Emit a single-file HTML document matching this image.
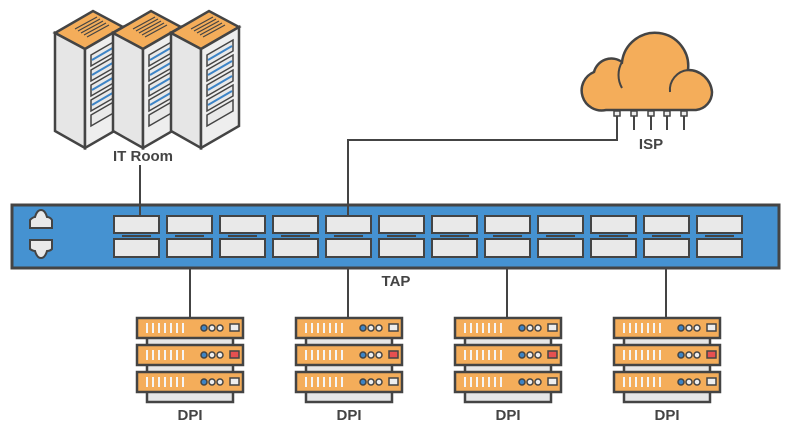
<!DOCTYPE html>
<html><head><meta charset="utf-8"><style>
html,body{margin:0;padding:0;background:#fff;}
svg{display:block;}
text{font-family:"Liberation Sans",sans-serif;font-weight:bold;fill:#444;}
</style></head><body>
<svg width="792" height="440" viewBox="0 0 792 440" xmlns="http://www.w3.org/2000/svg">
<defs>
<g id="rack">
  <polygon points="0,30 38,8 68,24 30,46" fill="#f4ad5a" stroke="#444" stroke-width="2.5"/>
  <g stroke="#444" stroke-width="1.2">
    <line x1="20" y1="26" x2="42" y2="14"/><line x1="23" y1="28" x2="45" y2="16"/>
    <line x1="26" y1="30" x2="48" y2="18"/><line x1="29" y1="32" x2="51" y2="20"/>
    <line x1="32" y1="34" x2="54" y2="22"/>
  </g>
  <polygon points="0,30 30,46 30,145 0,128" fill="#e6e6e6" stroke="#444" stroke-width="2.5"/>
  <polygon points="30,46 68,24 68,123 30,145" fill="#eeeeee" stroke="#444" stroke-width="2.5"/>
  <g fill="#e9e9e9" stroke="#444" stroke-width="1.5">
    <polygon points="36,52 62,37 62,48 36,63"/>
    <polygon points="36,67 62,52 62,63 36,78"/>
    <polygon points="36,82 62,67 62,78 36,93"/>
    <polygon points="36,97 62,82 62,93 36,108"/>
    <polygon points="36,112 62,97 62,108 36,123"/>
  </g>
  <g stroke="#3d84c6" stroke-width="2">
    <line x1="37" y1="57" x2="61" y2="43"/><line x1="37" y1="72" x2="61" y2="58"/>
    <line x1="37" y1="87" x2="61" y2="73"/><line x1="37" y1="102" x2="61" y2="88"/>
  </g>
</g>
<g id="unit">
  <rect x="0" y="0" width="106" height="20" fill="#f4ad5a" stroke="#444" stroke-width="2.5"/>
  <g stroke="#f5f5f5" stroke-width="2">
    <line x1="10" y1="5" x2="10" y2="15"/><line x1="16" y1="5" x2="16" y2="15"/>
    <line x1="22" y1="5" x2="22" y2="15"/><line x1="28" y1="5" x2="28" y2="15"/>
    <line x1="34" y1="5" x2="34" y2="15"/><line x1="40" y1="5" x2="40" y2="15"/>
    <line x1="46" y1="5" x2="46" y2="15"/>
  </g>
  <circle cx="67" cy="10" r="3" fill="#3d84c6" stroke="#444" stroke-width="1.5"/>
  <circle cx="75" cy="10" r="3" fill="#eee" stroke="#444" stroke-width="1.5"/>
  <circle cx="83" cy="10" r="3" fill="#eee" stroke="#444" stroke-width="1.5"/>
</g>
<g id="dpi">
  <rect x="10" y="10" width="86" height="74" fill="#e6e6e6" stroke="#444" stroke-width="2.5"/>
  <use href="#unit" x="0" y="0"/>
  <use href="#unit" x="0" y="27"/>
  <use href="#unit" x="0" y="54"/>
  <rect x="93" y="6" width="9" height="7" fill="#eee" stroke="#444" stroke-width="1.5"/>
  <rect x="93" y="33" width="9" height="7" fill="#e65050" stroke="#444" stroke-width="1.5"/>
  <rect x="93" y="60" width="9" height="7" fill="#eee" stroke="#444" stroke-width="1.5"/>
</g>
</defs>

<g stroke="#444" stroke-width="2" fill="none">
  <line x1="140" y1="165" x2="140" y2="216"/>
  <polyline points="617,118 617,140 348,140 348,216"/>
  <line x1="190" y1="257" x2="190" y2="318"/>
  <line x1="348" y1="257" x2="348" y2="318"/>
  <line x1="507" y1="257" x2="507" y2="318"/>
  <line x1="666" y1="257" x2="666" y2="318"/>
</g>

<use href="#rack" x="55" y="3"/>
<use href="#rack" x="113" y="3"/>
<use href="#rack" x="171" y="3"/>
<text x="143" y="161" font-size="15" text-anchor="middle">IT Room</text>

<g stroke="#444" stroke-width="2">
  <line x1="617" y1="110" x2="617" y2="140"/>
  <line x1="634" y1="110" x2="634" y2="130"/>
  <line x1="651" y1="110" x2="651" y2="130"/>
  <line x1="667" y1="110" x2="667" y2="130"/>
  <line x1="684" y1="110" x2="684" y2="130"/>
</g>
<g fill="#eee" stroke="#444" stroke-width="1.5">
  <rect x="614" y="111" width="6" height="5"/><rect x="631" y="111" width="6" height="5"/>
  <rect x="648" y="111" width="6" height="5"/><rect x="664" y="111" width="6" height="5"/>
  <rect x="681" y="111" width="6" height="5"/>
</g>
<path d="M606,110 A20,20 0 0 1 594,72 A18,18 0 0 1 622,62 A32,32 0 0 1 688,70 A24,24 0 0 1 712,92 A18,18 0 0 1 696,110 Z" fill="#f4ad5a" stroke="#444" stroke-width="2.5"/>
<path d="M622,62 A26,26 0 0 0 622,88" fill="none" stroke="#444" stroke-width="2"/>
<path d="M688,70 A20,20 0 0 0 670,92" fill="none" stroke="#444" stroke-width="2"/>
<text x="651" y="149" font-size="15" text-anchor="middle">ISP</text>

<rect x="12" y="205" width="767" height="63" fill="#4592d1" stroke="#444" stroke-width="3"/>
<path d="M30,228 L30,220 Q33,217 35,217 Q37,210 41,210 Q45,210 47,217 Q50,217 52,220 L52,228 Z" fill="#e9e9e9" stroke="#444" stroke-width="2"/>
<path d="M30,240 L30,249 Q33,251 35,251 Q37,258 41,258 Q45,258 47,251 Q50,251 52,249 L52,240 Z" fill="#e9e9e9" stroke="#444" stroke-width="2"/>
<g fill="#e9e9e9" stroke="#444" stroke-width="2">
<rect x="114" y="216" width="45" height="17"/><rect x="114" y="239" width="45" height="18"/>
<rect x="167" y="216" width="45" height="17"/><rect x="167" y="239" width="45" height="18"/>
<rect x="220" y="216" width="45" height="17"/><rect x="220" y="239" width="45" height="18"/>
<rect x="273" y="216" width="45" height="17"/><rect x="273" y="239" width="45" height="18"/>
<rect x="326" y="216" width="45" height="17"/><rect x="326" y="239" width="45" height="18"/>
<rect x="379" y="216" width="45" height="17"/><rect x="379" y="239" width="45" height="18"/>
<rect x="432" y="216" width="45" height="17"/><rect x="432" y="239" width="45" height="18"/>
<rect x="485" y="216" width="45" height="17"/><rect x="485" y="239" width="45" height="18"/>
<rect x="538" y="216" width="45" height="17"/><rect x="538" y="239" width="45" height="18"/>
<rect x="591" y="216" width="45" height="17"/><rect x="591" y="239" width="45" height="18"/>
<rect x="644" y="216" width="45" height="17"/><rect x="644" y="239" width="45" height="18"/>
<rect x="697" y="216" width="45" height="17"/><rect x="697" y="239" width="45" height="18"/>
</g>
<g stroke="#444" stroke-width="2">
<line x1="122" y1="236" x2="151" y2="236"/><line x1="175" y1="236" x2="204" y2="236"/>
<line x1="228" y1="236" x2="257" y2="236"/><line x1="281" y1="236" x2="310" y2="236"/>
<line x1="334" y1="236" x2="363" y2="236"/><line x1="387" y1="236" x2="416" y2="236"/>
<line x1="440" y1="236" x2="469" y2="236"/><line x1="493" y1="236" x2="522" y2="236"/>
<line x1="546" y1="236" x2="575" y2="236"/><line x1="599" y1="236" x2="628" y2="236"/>
<line x1="652" y1="236" x2="681" y2="236"/><line x1="705" y1="236" x2="734" y2="236"/>
</g>
<g stroke="#444" stroke-width="2">
  <line x1="140" y1="205" x2="140" y2="216"/><line x1="348" y1="205" x2="348" y2="216"/>
</g>
<text x="396" y="286" font-size="15" text-anchor="middle">TAP</text>

<use href="#dpi" x="137" y="318"/>
<use href="#dpi" x="296" y="318"/>
<use href="#dpi" x="455" y="318"/>
<use href="#dpi" x="614" y="318"/>
<text x="190" y="420" font-size="15" text-anchor="middle">DPI</text>
<text x="349" y="420" font-size="15" text-anchor="middle">DPI</text>
<text x="508" y="420" font-size="15" text-anchor="middle">DPI</text>
<text x="667" y="420" font-size="15" text-anchor="middle">DPI</text>
</svg>
</body></html>
